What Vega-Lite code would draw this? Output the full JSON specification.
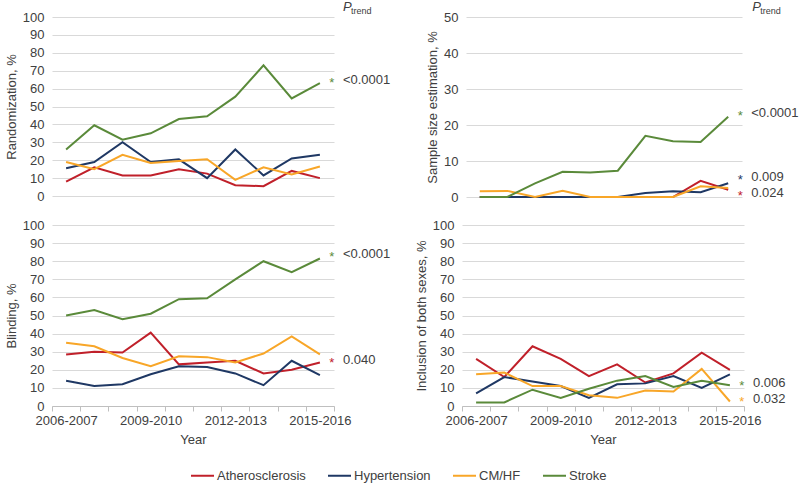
{
  "$schema": "https://vega.github.io/schema/vega-lite/v6.json",
  "padding": {"left": 5, "top": 1, "right": 0, "bottom": 3},
  "spacing": 15,
  "data": {"values": [
    {"measure":"Randomization","disease":"Atherosclerosis","year":"2006-2007","value":8},
    {"measure":"Randomization","disease":"Atherosclerosis","year":"2007-2008","value":16},
    {"measure":"Randomization","disease":"Atherosclerosis","year":"2008-2009","value":11.5},
    {"measure":"Randomization","disease":"Atherosclerosis","year":"2009-2010","value":11.5},
    {"measure":"Randomization","disease":"Atherosclerosis","year":"2010-2011","value":15},
    {"measure":"Randomization","disease":"Atherosclerosis","year":"2011-2012","value":12.5},
    {"measure":"Randomization","disease":"Atherosclerosis","year":"2012-2013","value":6},
    {"measure":"Randomization","disease":"Atherosclerosis","year":"2013-2014","value":5.5},
    {"measure":"Randomization","disease":"Atherosclerosis","year":"2014-2015","value":14},
    {"measure":"Randomization","disease":"Atherosclerosis","year":"2015-2016","value":10},
    {"measure":"Randomization","disease":"Hypertension","year":"2006-2007","value":15.5},
    {"measure":"Randomization","disease":"Hypertension","year":"2007-2008","value":19},
    {"measure":"Randomization","disease":"Hypertension","year":"2008-2009","value":30},
    {"measure":"Randomization","disease":"Hypertension","year":"2009-2010","value":19},
    {"measure":"Randomization","disease":"Hypertension","year":"2010-2011","value":20.5},
    {"measure":"Randomization","disease":"Hypertension","year":"2011-2012","value":10},
    {"measure":"Randomization","disease":"Hypertension","year":"2012-2013","value":26},
    {"measure":"Randomization","disease":"Hypertension","year":"2013-2014","value":11.5},
    {"measure":"Randomization","disease":"Hypertension","year":"2014-2015","value":21},
    {"measure":"Randomization","disease":"Hypertension","year":"2015-2016","value":23},
    {"measure":"Randomization","disease":"CM/HF","year":"2006-2007","value":19},
    {"measure":"Randomization","disease":"CM/HF","year":"2007-2008","value":15},
    {"measure":"Randomization","disease":"CM/HF","year":"2008-2009","value":23},
    {"measure":"Randomization","disease":"CM/HF","year":"2009-2010","value":18.5},
    {"measure":"Randomization","disease":"CM/HF","year":"2010-2011","value":19.5},
    {"measure":"Randomization","disease":"CM/HF","year":"2011-2012","value":20.5},
    {"measure":"Randomization","disease":"CM/HF","year":"2012-2013","value":9},
    {"measure":"Randomization","disease":"CM/HF","year":"2013-2014","value":16},
    {"measure":"Randomization","disease":"CM/HF","year":"2014-2015","value":12},
    {"measure":"Randomization","disease":"CM/HF","year":"2015-2016","value":16.5},
    {"measure":"Randomization","disease":"Stroke","year":"2006-2007","value":26},
    {"measure":"Randomization","disease":"Stroke","year":"2007-2008","value":39.5},
    {"measure":"Randomization","disease":"Stroke","year":"2008-2009","value":31.5},
    {"measure":"Randomization","disease":"Stroke","year":"2009-2010","value":35},
    {"measure":"Randomization","disease":"Stroke","year":"2010-2011","value":43},
    {"measure":"Randomization","disease":"Stroke","year":"2011-2012","value":44.5},
    {"measure":"Randomization","disease":"Stroke","year":"2012-2013","value":55.5},
    {"measure":"Randomization","disease":"Stroke","year":"2013-2014","value":73},
    {"measure":"Randomization","disease":"Stroke","year":"2014-2015","value":54.5},
    {"measure":"Randomization","disease":"Stroke","year":"2015-2016","value":63},

    {"measure":"Sample","disease":"Atherosclerosis","year":"2006-2007","value":0},
    {"measure":"Sample","disease":"Atherosclerosis","year":"2007-2008","value":0},
    {"measure":"Sample","disease":"Atherosclerosis","year":"2008-2009","value":0},
    {"measure":"Sample","disease":"Atherosclerosis","year":"2009-2010","value":0},
    {"measure":"Sample","disease":"Atherosclerosis","year":"2010-2011","value":0},
    {"measure":"Sample","disease":"Atherosclerosis","year":"2011-2012","value":0},
    {"measure":"Sample","disease":"Atherosclerosis","year":"2012-2013","value":0},
    {"measure":"Sample","disease":"Atherosclerosis","year":"2013-2014","value":0},
    {"measure":"Sample","disease":"Atherosclerosis","year":"2014-2015","value":4.5},
    {"measure":"Sample","disease":"Atherosclerosis","year":"2015-2016","value":2},
    {"measure":"Sample","disease":"Hypertension","year":"2006-2007","value":0},
    {"measure":"Sample","disease":"Hypertension","year":"2007-2008","value":0},
    {"measure":"Sample","disease":"Hypertension","year":"2008-2009","value":0},
    {"measure":"Sample","disease":"Hypertension","year":"2009-2010","value":0},
    {"measure":"Sample","disease":"Hypertension","year":"2010-2011","value":0},
    {"measure":"Sample","disease":"Hypertension","year":"2011-2012","value":0},
    {"measure":"Sample","disease":"Hypertension","year":"2012-2013","value":1.1},
    {"measure":"Sample","disease":"Hypertension","year":"2013-2014","value":1.6},
    {"measure":"Sample","disease":"Hypertension","year":"2014-2015","value":1.3},
    {"measure":"Sample","disease":"Hypertension","year":"2015-2016","value":3.8},
    {"measure":"Sample","disease":"CM/HF","year":"2006-2007","value":1.6},
    {"measure":"Sample","disease":"CM/HF","year":"2007-2008","value":1.7},
    {"measure":"Sample","disease":"CM/HF","year":"2008-2009","value":0},
    {"measure":"Sample","disease":"CM/HF","year":"2009-2010","value":1.7},
    {"measure":"Sample","disease":"CM/HF","year":"2010-2011","value":0},
    {"measure":"Sample","disease":"CM/HF","year":"2011-2012","value":0},
    {"measure":"Sample","disease":"CM/HF","year":"2012-2013","value":0},
    {"measure":"Sample","disease":"CM/HF","year":"2013-2014","value":0},
    {"measure":"Sample","disease":"CM/HF","year":"2014-2015","value":3},
    {"measure":"Sample","disease":"CM/HF","year":"2015-2016","value":2.5},
    {"measure":"Sample","disease":"Stroke","year":"2006-2007","value":0},
    {"measure":"Sample","disease":"Stroke","year":"2007-2008","value":0},
    {"measure":"Sample","disease":"Stroke","year":"2008-2009","value":3.8},
    {"measure":"Sample","disease":"Stroke","year":"2009-2010","value":7},
    {"measure":"Sample","disease":"Stroke","year":"2010-2011","value":6.8},
    {"measure":"Sample","disease":"Stroke","year":"2011-2012","value":7.3},
    {"measure":"Sample","disease":"Stroke","year":"2012-2013","value":17},
    {"measure":"Sample","disease":"Stroke","year":"2013-2014","value":15.5},
    {"measure":"Sample","disease":"Stroke","year":"2014-2015","value":15.3},
    {"measure":"Sample","disease":"Stroke","year":"2015-2016","value":22.3},

    {"measure":"Blinding","disease":"Atherosclerosis","year":"2006-2007","value":28.5},
    {"measure":"Blinding","disease":"Atherosclerosis","year":"2007-2008","value":30},
    {"measure":"Blinding","disease":"Atherosclerosis","year":"2008-2009","value":29.5},
    {"measure":"Blinding","disease":"Atherosclerosis","year":"2009-2010","value":40.5},
    {"measure":"Blinding","disease":"Atherosclerosis","year":"2010-2011","value":23},
    {"measure":"Blinding","disease":"Atherosclerosis","year":"2011-2012","value":24},
    {"measure":"Blinding","disease":"Atherosclerosis","year":"2012-2013","value":25},
    {"measure":"Blinding","disease":"Atherosclerosis","year":"2013-2014","value":18},
    {"measure":"Blinding","disease":"Atherosclerosis","year":"2014-2015","value":20},
    {"measure":"Blinding","disease":"Atherosclerosis","year":"2015-2016","value":24},
    {"measure":"Blinding","disease":"Hypertension","year":"2006-2007","value":14},
    {"measure":"Blinding","disease":"Hypertension","year":"2007-2008","value":11},
    {"measure":"Blinding","disease":"Hypertension","year":"2008-2009","value":12},
    {"measure":"Blinding","disease":"Hypertension","year":"2009-2010","value":17.5},
    {"measure":"Blinding","disease":"Hypertension","year":"2010-2011","value":22},
    {"measure":"Blinding","disease":"Hypertension","year":"2011-2012","value":21.5},
    {"measure":"Blinding","disease":"Hypertension","year":"2012-2013","value":18},
    {"measure":"Blinding","disease":"Hypertension","year":"2013-2014","value":11.5},
    {"measure":"Blinding","disease":"Hypertension","year":"2014-2015","value":25},
    {"measure":"Blinding","disease":"Hypertension","year":"2015-2016","value":17},
    {"measure":"Blinding","disease":"CM/HF","year":"2006-2007","value":35},
    {"measure":"Blinding","disease":"CM/HF","year":"2007-2008","value":33},
    {"measure":"Blinding","disease":"CM/HF","year":"2008-2009","value":26.5},
    {"measure":"Blinding","disease":"CM/HF","year":"2009-2010","value":22},
    {"measure":"Blinding","disease":"CM/HF","year":"2010-2011","value":27.5},
    {"measure":"Blinding","disease":"CM/HF","year":"2011-2012","value":27},
    {"measure":"Blinding","disease":"CM/HF","year":"2012-2013","value":24},
    {"measure":"Blinding","disease":"CM/HF","year":"2013-2014","value":29},
    {"measure":"Blinding","disease":"CM/HF","year":"2014-2015","value":38.5},
    {"measure":"Blinding","disease":"CM/HF","year":"2015-2016","value":28.5},
    {"measure":"Blinding","disease":"Stroke","year":"2006-2007","value":50},
    {"measure":"Blinding","disease":"Stroke","year":"2007-2008","value":53},
    {"measure":"Blinding","disease":"Stroke","year":"2008-2009","value":48},
    {"measure":"Blinding","disease":"Stroke","year":"2009-2010","value":51},
    {"measure":"Blinding","disease":"Stroke","year":"2010-2011","value":59},
    {"measure":"Blinding","disease":"Stroke","year":"2011-2012","value":59.5},
    {"measure":"Blinding","disease":"Stroke","year":"2012-2013","value":70},
    {"measure":"Blinding","disease":"Stroke","year":"2013-2014","value":80},
    {"measure":"Blinding","disease":"Stroke","year":"2014-2015","value":74},
    {"measure":"Blinding","disease":"Stroke","year":"2015-2016","value":81.5},

    {"measure":"Inclusion","disease":"Atherosclerosis","year":"2006-2007","value":26},
    {"measure":"Inclusion","disease":"Atherosclerosis","year":"2007-2008","value":16},
    {"measure":"Inclusion","disease":"Atherosclerosis","year":"2008-2009","value":33},
    {"measure":"Inclusion","disease":"Atherosclerosis","year":"2009-2010","value":26},
    {"measure":"Inclusion","disease":"Atherosclerosis","year":"2010-2011","value":16.5},
    {"measure":"Inclusion","disease":"Atherosclerosis","year":"2011-2012","value":23},
    {"measure":"Inclusion","disease":"Atherosclerosis","year":"2012-2013","value":13},
    {"measure":"Inclusion","disease":"Atherosclerosis","year":"2013-2014","value":18},
    {"measure":"Inclusion","disease":"Atherosclerosis","year":"2014-2015","value":29.5},
    {"measure":"Inclusion","disease":"Atherosclerosis","year":"2015-2016","value":20},
    {"measure":"Inclusion","disease":"Hypertension","year":"2006-2007","value":7},
    {"measure":"Inclusion","disease":"Hypertension","year":"2007-2008","value":16},
    {"measure":"Inclusion","disease":"Hypertension","year":"2008-2009","value":13.5},
    {"measure":"Inclusion","disease":"Hypertension","year":"2009-2010","value":11},
    {"measure":"Inclusion","disease":"Hypertension","year":"2010-2011","value":4.5},
    {"measure":"Inclusion","disease":"Hypertension","year":"2011-2012","value":12},
    {"measure":"Inclusion","disease":"Hypertension","year":"2012-2013","value":12.5},
    {"measure":"Inclusion","disease":"Hypertension","year":"2013-2014","value":16.5},
    {"measure":"Inclusion","disease":"Hypertension","year":"2014-2015","value":10},
    {"measure":"Inclusion","disease":"Hypertension","year":"2015-2016","value":17.5},
    {"measure":"Inclusion","disease":"CM/HF","year":"2006-2007","value":17.5},
    {"measure":"Inclusion","disease":"CM/HF","year":"2007-2008","value":18.5},
    {"measure":"Inclusion","disease":"CM/HF","year":"2008-2009","value":11},
    {"measure":"Inclusion","disease":"CM/HF","year":"2009-2010","value":11},
    {"measure":"Inclusion","disease":"CM/HF","year":"2010-2011","value":6},
    {"measure":"Inclusion","disease":"CM/HF","year":"2011-2012","value":4.5},
    {"measure":"Inclusion","disease":"CM/HF","year":"2012-2013","value":8.5},
    {"measure":"Inclusion","disease":"CM/HF","year":"2013-2014","value":8},
    {"measure":"Inclusion","disease":"CM/HF","year":"2014-2015","value":20.5},
    {"measure":"Inclusion","disease":"CM/HF","year":"2015-2016","value":2.5},
    {"measure":"Inclusion","disease":"Stroke","year":"2006-2007","value":2},
    {"measure":"Inclusion","disease":"Stroke","year":"2007-2008","value":2},
    {"measure":"Inclusion","disease":"Stroke","year":"2008-2009","value":9},
    {"measure":"Inclusion","disease":"Stroke","year":"2009-2010","value":4.5},
    {"measure":"Inclusion","disease":"Stroke","year":"2010-2011","value":9.5},
    {"measure":"Inclusion","disease":"Stroke","year":"2011-2012","value":14},
    {"measure":"Inclusion","disease":"Stroke","year":"2012-2013","value":16.5},
    {"measure":"Inclusion","disease":"Stroke","year":"2013-2014","value":10.5},
    {"measure":"Inclusion","disease":"Stroke","year":"2014-2015","value":14},
    {"measure":"Inclusion","disease":"Stroke","year":"2015-2016","value":11.5}
  ]},
  "datasets": {
    "ann": [
      {"measure":"Randomization","disease":"Stroke","p":"<0.0001","at":65},
      {"measure":"Sample","disease":"Stroke","p":"<0.0001","at":23.2},
      {"measure":"Sample","disease":"Hypertension","p":"0.009","at":5.5},
      {"measure":"Sample","disease":"Atherosclerosis","p":"0.024","at":1.2},
      {"measure":"Blinding","disease":"Stroke","p":"<0.0001","at":84.2},
      {"measure":"Blinding","disease":"Atherosclerosis","p":"0.040","at":25.4},
      {"measure":"Inclusion","disease":"Stroke","p":"0.006","at":12.9},
      {"measure":"Inclusion","disease":"CM/HF","p":"0.032","at":4.1}
    ],
    "hdr": [{"label":"P","sub":"trend"}]
  },
  "vconcat": [
    {
      "spacing": 35,
      "hconcat": [
        {
          "width": 282, "height": 179,
          "layer": [
            {
              "transform": [{"filter": "datum.measure === 'Randomization'"}],
              "mark": {"type": "line", "strokeWidth": 2},
              "encoding": {
                "x": {"field": "year", "type": "ordinal", "scale": {"type": "band", "paddingInner": 0, "paddingOuter": 0}, "axis": null},
                "y": {"field": "value", "type": "quantitative", "scale": {"domain": [0, 100]}, "axis": {"title": "Randomization, %", "values": [0,10,20,30,40,50,60,70,80,90,100], "grid": true}},
                "color": {"field": "disease", "type": "nominal", "scale": {"domain": ["Atherosclerosis","Hypertension","CM/HF","Stroke"], "range": ["#C0202A","#1F3864","#F8A628","#5A8A3A"]}, "legend": {"title": null, "symbolType": "stroke", "orient": "none", "legendX": 138, "legendY": 446, "direction": "horizontal"}}
              }
            },
            {
              "data": {"name": "ann"},
              "transform": [{"filter": "datum.measure === 'Randomization'"}],
              "mark": {"type": "text", "text": "*", "dx": 12, "dy": 3, "fontSize": 13},
              "encoding": {
                "x": {"datum": "2015-2016", "type": "ordinal", "axis": null},
                "y": {"field": "at", "type": "quantitative", "axis": {"title": "Randomization, %", "values": [0,10,20,30,40,50,60,70,80,90,100], "grid": true}},
                "color": {"field": "disease", "type": "nominal"}
              }
            },
            {
              "data": {"name": "ann"},
              "transform": [{"filter": "datum.measure === 'Randomization'"}],
              "mark": {"type": "text", "align": "left", "baseline": "middle", "dx": 23, "fontSize": 13, "color": "#404040"},
              "encoding": {
                "x": {"datum": "2015-2016", "type": "ordinal", "axis": null},
                "y": {"field": "at", "type": "quantitative", "axis": {"title": "Randomization, %", "values": [0,10,20,30,40,50,60,70,80,90,100], "grid": true}},
                "text": {"field": "p"}
              }
            },
            {
              "data": {"name": "hdr"},
              "mark": {"type": "text", "align": "left", "baseline": "alphabetic", "dx": 23, "dy": -6, "fontSize": 13, "fontStyle": "italic", "color": "#404040"},
              "encoding": {
                "x": {"datum": "2015-2016", "type": "ordinal", "axis": null},
                "y": {"datum": 100, "type": "quantitative", "axis": {"title": "Randomization, %", "values": [0,10,20,30,40,50,60,70,80,90,100], "grid": true}},
                "text": {"field": "label"}
              }
            },
            {
              "data": {"name": "hdr"},
              "mark": {"type": "text", "align": "left", "baseline": "alphabetic", "dx": 31, "dy": -3, "fontSize": 9, "color": "#404040"},
              "encoding": {
                "x": {"datum": "2015-2016", "type": "ordinal", "axis": null},
                "y": {"datum": 100, "type": "quantitative", "axis": {"title": "Randomization, %", "values": [0,10,20,30,40,50,60,70,80,90,100], "grid": true}},
                "text": {"field": "sub"}
              }
            }
          ]
        },
        {
          "width": 276, "height": 180,
          "layer": [
            {
              "transform": [{"filter": "datum.measure === 'Sample'"}],
              "mark": {"type": "line", "strokeWidth": 2},
              "encoding": {
                "x": {"field": "year", "type": "ordinal", "scale": {"type": "band", "paddingInner": 0, "paddingOuter": 0}, "axis": null},
                "y": {"field": "value", "type": "quantitative", "scale": {"domain": [0, 50]}, "axis": {"title": "Sample size estimation, %", "values": [0,10,20,30,40,50], "grid": true}},
                "color": {"field": "disease", "type": "nominal"}
              }
            },
            {
              "data": {"name": "ann"},
              "transform": [{"filter": "datum.measure === 'Sample'"}],
              "mark": {"type": "text", "text": "*", "dx": 12, "dy": 3, "fontSize": 13},
              "encoding": {
                "x": {"datum": "2015-2016", "type": "ordinal", "axis": null},
                "y": {"field": "at", "type": "quantitative", "axis": {"title": "Sample size estimation, %", "values": [0,10,20,30,40,50], "grid": true}},
                "color": {"field": "disease", "type": "nominal"}
              }
            },
            {
              "data": {"name": "ann"},
              "transform": [{"filter": "datum.measure === 'Sample'"}],
              "mark": {"type": "text", "align": "left", "baseline": "middle", "dx": 23, "fontSize": 13, "color": "#404040"},
              "encoding": {
                "x": {"datum": "2015-2016", "type": "ordinal", "axis": null},
                "y": {"field": "at", "type": "quantitative", "axis": {"title": "Sample size estimation, %", "values": [0,10,20,30,40,50], "grid": true}},
                "text": {"field": "p"}
              }
            },
            {
              "data": {"name": "hdr"},
              "mark": {"type": "text", "align": "left", "baseline": "alphabetic", "dx": 24, "dy": -6, "fontSize": 13, "fontStyle": "italic", "color": "#404040"},
              "encoding": {
                "x": {"datum": "2015-2016", "type": "ordinal", "axis": null},
                "y": {"datum": 50, "type": "quantitative", "axis": {"title": "Sample size estimation, %", "values": [0,10,20,30,40,50], "grid": true}},
                "text": {"field": "label"}
              }
            },
            {
              "data": {"name": "hdr"},
              "mark": {"type": "text", "align": "left", "baseline": "alphabetic", "dx": 32, "dy": -3, "fontSize": 9, "color": "#404040"},
              "encoding": {
                "x": {"datum": "2015-2016", "type": "ordinal", "axis": null},
                "y": {"datum": 50, "type": "quantitative", "axis": {"title": "Sample size estimation, %", "values": [0,10,20,30,40,50], "grid": true}},
                "text": {"field": "sub"}
              }
            }
          ]
        }
      ]
    },
    {
      "spacing": 24,
      "hconcat": [
        {
          "width": 282, "height": 181,
          "layer": [
            {
              "transform": [{"filter": "datum.measure === 'Blinding'"}],
              "mark": {"type": "line", "strokeWidth": 2},
              "encoding": {
                "x": {"field": "year", "type": "ordinal", "scale": {"type": "band", "paddingInner": 0, "paddingOuter": 0}, "axis": {"title": "Year", "labelAngle": 0, "tickBand": "extent", "labelExpr": "indexof(['2006-2007','2009-2010','2012-2013','2015-2016'], datum.value) >= 0 ? datum.value : ''"}},
                "y": {"field": "value", "type": "quantitative", "scale": {"domain": [0, 100]}, "axis": {"title": "Blinding, %", "values": [0,10,20,30,40,50,60,70,80,90,100], "grid": true}},
                "color": {"field": "disease", "type": "nominal"}
              }
            },
            {
              "data": {"name": "ann"},
              "transform": [{"filter": "datum.measure === 'Blinding'"}],
              "mark": {"type": "text", "text": "*", "dx": 12, "dy": 3, "fontSize": 13},
              "encoding": {
                "x": {"datum": "2015-2016", "type": "ordinal", "axis": {"title": "Year", "labelAngle": 0, "tickBand": "extent", "labelExpr": "indexof(['2006-2007','2009-2010','2012-2013','2015-2016'], datum.value) >= 0 ? datum.value : ''"}},
                "y": {"field": "at", "type": "quantitative", "axis": {"title": "Blinding, %", "values": [0,10,20,30,40,50,60,70,80,90,100], "grid": true}},
                "color": {"field": "disease", "type": "nominal"}
              }
            },
            {
              "data": {"name": "ann"},
              "transform": [{"filter": "datum.measure === 'Blinding'"}],
              "mark": {"type": "text", "align": "left", "baseline": "middle", "dx": 23, "fontSize": 13, "color": "#404040"},
              "encoding": {
                "x": {"datum": "2015-2016", "type": "ordinal", "axis": {"title": "Year", "labelAngle": 0, "tickBand": "extent", "labelExpr": "indexof(['2006-2007','2009-2010','2012-2013','2015-2016'], datum.value) >= 0 ? datum.value : ''"}},
                "y": {"field": "at", "type": "quantitative", "axis": {"title": "Blinding, %", "values": [0,10,20,30,40,50,60,70,80,90,100], "grid": true}},
                "text": {"field": "p"}
              }
            }
          ]
        },
        {
          "width": 282, "height": 181,
          "layer": [
            {
              "transform": [{"filter": "datum.measure === 'Inclusion'"}],
              "mark": {"type": "line", "strokeWidth": 2},
              "encoding": {
                "x": {"field": "year", "type": "ordinal", "scale": {"type": "band", "paddingInner": 0, "paddingOuter": 0}, "axis": {"title": "Year", "labelAngle": 0, "tickBand": "extent", "labelExpr": "indexof(['2006-2007','2009-2010','2012-2013','2015-2016'], datum.value) >= 0 ? datum.value : ''"}},
                "y": {"field": "value", "type": "quantitative", "scale": {"domain": [0, 100]}, "axis": {"title": "Inclusion of both sexes, %", "values": [0,10,20,30,40,50,60,70,80,90,100], "grid": true}},
                "color": {"field": "disease", "type": "nominal"}
              }
            },
            {
              "data": {"name": "ann"},
              "transform": [{"filter": "datum.measure === 'Inclusion'"}],
              "mark": {"type": "text", "text": "*", "dx": 12, "dy": 3, "fontSize": 13},
              "encoding": {
                "x": {"datum": "2015-2016", "type": "ordinal", "axis": {"title": "Year", "labelAngle": 0, "tickBand": "extent", "labelExpr": "indexof(['2006-2007','2009-2010','2012-2013','2015-2016'], datum.value) >= 0 ? datum.value : ''"}},
                "y": {"field": "at", "type": "quantitative", "axis": {"title": "Inclusion of both sexes, %", "values": [0,10,20,30,40,50,60,70,80,90,100], "grid": true}},
                "color": {"field": "disease", "type": "nominal"}
              }
            },
            {
              "data": {"name": "ann"},
              "transform": [{"filter": "datum.measure === 'Inclusion'"}],
              "mark": {"type": "text", "align": "left", "baseline": "middle", "dx": 23, "fontSize": 13, "color": "#404040"},
              "encoding": {
                "x": {"datum": "2015-2016", "type": "ordinal", "axis": {"title": "Year", "labelAngle": 0, "tickBand": "extent", "labelExpr": "indexof(['2006-2007','2009-2010','2012-2013','2015-2016'], datum.value) >= 0 ? datum.value : ''"}},
                "y": {"field": "at", "type": "quantitative", "axis": {"title": "Inclusion of both sexes, %", "values": [0,10,20,30,40,50,60,70,80,90,100], "grid": true}},
                "text": {"field": "p"}
              }
            }
          ]
        }
      ]
    }
  ],
  "config": {
    "view": {"stroke": null},
    "font": "Liberation Sans",
    "axis": {
      "labelFont": "Liberation Sans", "labelFontSize": 13, "labelColor": "#404040",
      "titleFont": "Liberation Sans", "titleFontSize": 13, "titleFontWeight": "normal", "titleColor": "#404040",
      "gridColor": "#d9d9d9", "domainColor": "#bfbfbf", "tickColor": "#bfbfbf"
    },
    "axisY": {"domain": false, "ticks": false, "labelPadding": 8, "titlePadding": 4},
    "axisX": {"grid": false, "tickSize": 5, "labelPadding": 3, "titlePadding": 6},
    "legend": {
      "symbolSize": 529, "symbolStrokeWidth": 2,
      "labelFont": "Liberation Sans", "labelFontSize": 13, "labelColor": "#404040",
      "columnPadding": 18, "labelOffset": 2
    }
  }
}
